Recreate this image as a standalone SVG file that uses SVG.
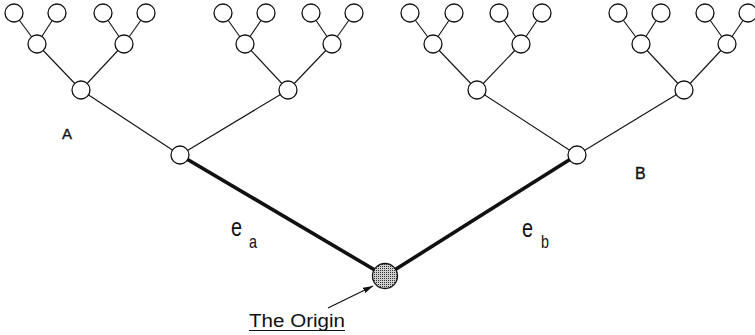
<svg xmlns="http://www.w3.org/2000/svg" width="755" height="335" viewBox="0 0 755 335">
<style>
.edge{stroke:#111;stroke-width:1.1;fill:none}
.thick{stroke:#111;stroke-width:3.6;fill:none;stroke-linecap:butt}
.node{fill:#fff;stroke:#111;stroke-width:1.3}
.lbl{font-family:"Liberation Sans",Arial,sans-serif;fill:#111}
.bold{stroke:#111;stroke-width:0.35}
</style>
<defs>
<pattern id="stip" width="2" height="2" patternUnits="userSpaceOnUse">
<rect width="2" height="2" fill="#d0d0d0"/>
<rect width="1" height="1" fill="#333"/>
</pattern>
<marker id="ah" markerWidth="10" markerHeight="6" refX="10" refY="3" orient="auto" markerUnits="userSpaceOnUse">
<path d="M0,0 L10,3 L0,6 Z" fill="#111"/>
</marker>
</defs>
<rect width="755" height="335" fill="#fff"/>
<g id="connectors">
<line class="edge" x1="180" y1="155" x2="81" y2="90"/>
<line class="edge" x1="180" y1="155" x2="288" y2="90"/>
<line class="edge" x1="81" y1="90" x2="37" y2="44"/>
<line class="edge" x1="81" y1="90" x2="124" y2="44"/>
<line class="edge" x1="288" y1="90" x2="245" y2="44"/>
<line class="edge" x1="288" y1="90" x2="332" y2="44"/>
<line class="edge" x1="37" y1="44" x2="14" y2="13"/>
<line class="edge" x1="37" y1="44" x2="57" y2="13"/>
<line class="edge" x1="124" y1="44" x2="103" y2="13"/>
<line class="edge" x1="124" y1="44" x2="146" y2="13"/>
<line class="edge" x1="245" y1="44" x2="223" y2="13"/>
<line class="edge" x1="245" y1="44" x2="266" y2="13"/>
<line class="edge" x1="332" y1="44" x2="311" y2="13"/>
<line class="edge" x1="332" y1="44" x2="354" y2="13"/>
<line class="edge" x1="577" y1="155" x2="477" y2="90"/>
<line class="edge" x1="577" y1="155" x2="684" y2="90"/>
<line class="edge" x1="477" y1="90" x2="433" y2="44"/>
<line class="edge" x1="477" y1="90" x2="521" y2="44"/>
<line class="edge" x1="684" y1="90" x2="641" y2="44"/>
<line class="edge" x1="684" y1="90" x2="727" y2="44"/>
<line class="edge" x1="433" y1="44" x2="410" y2="13"/>
<line class="edge" x1="433" y1="44" x2="454" y2="13"/>
<line class="edge" x1="521" y1="44" x2="499" y2="13"/>
<line class="edge" x1="521" y1="44" x2="542" y2="13"/>
<line class="edge" x1="641" y1="44" x2="618" y2="13"/>
<line class="edge" x1="641" y1="44" x2="661" y2="13"/>
<line class="edge" x1="727" y1="44" x2="705" y2="13"/>
<line class="edge" x1="727" y1="44" x2="748" y2="13"/>
<line class="thick" x1="180" y1="155" x2="385" y2="276"/>
<line class="thick" x1="385" y1="276" x2="577" y2="155"/>
<line stroke="#111" stroke-width="1.2" x1="328" y1="308" x2="373" y2="286" marker-end="url(#ah)"/>
</g>
<g id="origin"><circle cx="385" cy="276" r="12.5" fill="url(#stip)" stroke="#111" stroke-width="1.3"/></g>
<g id="A-root"><circle class="node" cx="180" cy="155" r="9"/></g>
<g id="A-l"><circle class="node" cx="81" cy="90" r="9"/></g>
<g id="A-r"><circle class="node" cx="288" cy="90" r="9"/></g>
<g id="A-ll"><circle class="node" cx="37" cy="44" r="9"/></g>
<g id="A-lr"><circle class="node" cx="124" cy="44" r="9"/></g>
<g id="A-rl"><circle class="node" cx="245" cy="44" r="9"/></g>
<g id="A-rr"><circle class="node" cx="332" cy="44" r="9"/></g>
<g id="A-leaf1"><circle class="node" cx="14" cy="13" r="9"/></g>
<g id="A-leaf2"><circle class="node" cx="57" cy="13" r="9"/></g>
<g id="A-leaf3"><circle class="node" cx="103" cy="13" r="9"/></g>
<g id="A-leaf4"><circle class="node" cx="146" cy="13" r="9"/></g>
<g id="A-leaf5"><circle class="node" cx="223" cy="13" r="9"/></g>
<g id="A-leaf6"><circle class="node" cx="266" cy="13" r="9"/></g>
<g id="A-leaf7"><circle class="node" cx="311" cy="13" r="9"/></g>
<g id="A-leaf8"><circle class="node" cx="354" cy="13" r="9"/></g>
<g id="B-root"><circle class="node" cx="577" cy="155" r="9"/></g>
<g id="B-l"><circle class="node" cx="477" cy="90" r="9"/></g>
<g id="B-r"><circle class="node" cx="684" cy="90" r="9"/></g>
<g id="B-ll"><circle class="node" cx="433" cy="44" r="9"/></g>
<g id="B-lr"><circle class="node" cx="521" cy="44" r="9"/></g>
<g id="B-rl"><circle class="node" cx="641" cy="44" r="9"/></g>
<g id="B-rr"><circle class="node" cx="727" cy="44" r="9"/></g>
<g id="B-leaf1"><circle class="node" cx="410" cy="13" r="9"/></g>
<g id="B-leaf2"><circle class="node" cx="454" cy="13" r="9"/></g>
<g id="B-leaf3"><circle class="node" cx="499" cy="13" r="9"/></g>
<g id="B-leaf4"><circle class="node" cx="542" cy="13" r="9"/></g>
<g id="B-leaf5"><circle class="node" cx="618" cy="13" r="9"/></g>
<g id="B-leaf6"><circle class="node" cx="661" cy="13" r="9"/></g>
<g id="B-leaf7"><circle class="node" cx="705" cy="13" r="9"/></g>
<g id="B-leaf8"><circle class="node" cx="748" cy="13" r="9"/></g>
<g id="labels">
<text class="lbl bold" x="62" y="139" font-size="15">A</text>
<text class="lbl bold" x="635" y="179" font-size="16">B</text>
<text class="lbl" x="231" y="235.5" font-size="26" textLength="11" lengthAdjust="spacingAndGlyphs">e</text>
<text class="lbl" x="249" y="248" font-size="19" textLength="8" lengthAdjust="spacingAndGlyphs">a</text>
<text class="lbl" x="522" y="237" font-size="26" textLength="11" lengthAdjust="spacingAndGlyphs">e</text>
<text class="lbl" x="541" y="248" font-size="19" textLength="8" lengthAdjust="spacingAndGlyphs">b</text>
<text class="lbl" x="249" y="327" font-size="18" textLength="96" lengthAdjust="spacingAndGlyphs">The Origin</text>
<line x1="249" y1="330.5" x2="345" y2="330.5" stroke="#111" stroke-width="1.2"/>
</g>
</svg>
